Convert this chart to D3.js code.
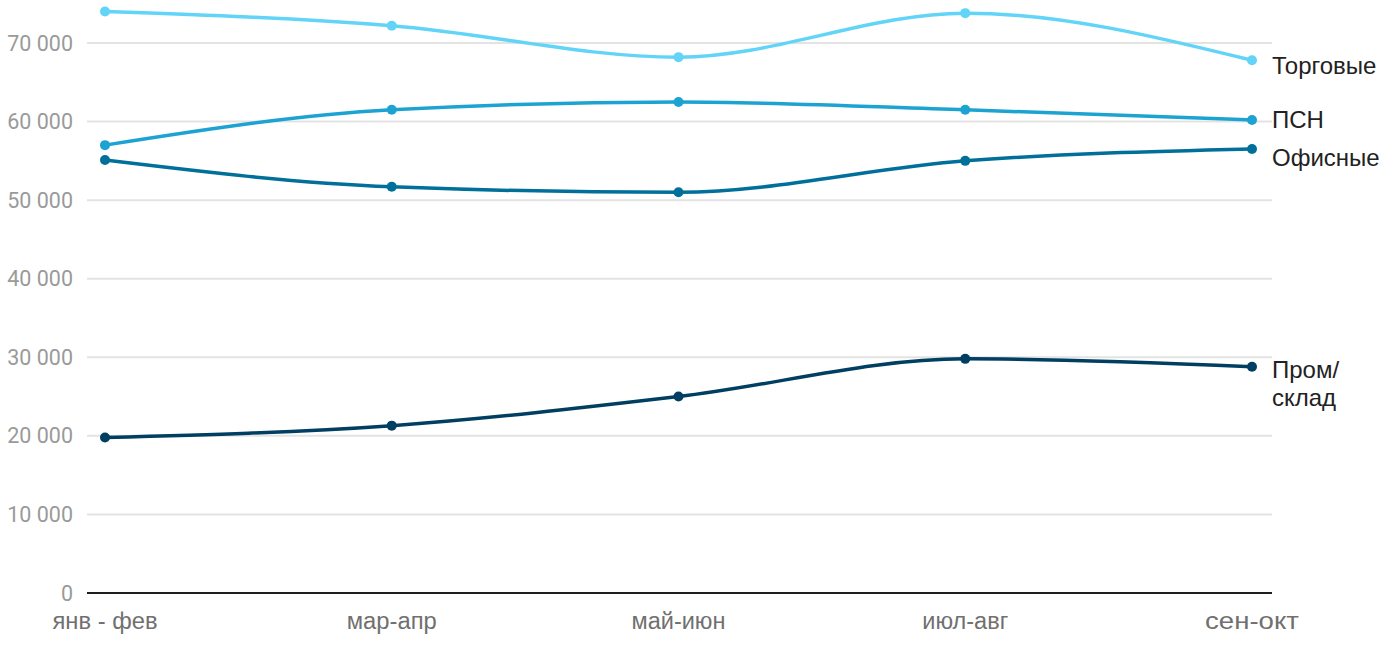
<!DOCTYPE html>
<html><head><meta charset="utf-8">
<script src="https://cdn.jsdelivr.net/npm/d3@7"></script>
<style>body{margin:0;background:#fff}</style>
</head><body>
<svg id="c" width="1400" height="650"></svg>
<script>
const categories = ["янв - фев","мар-апр","май-июн","июл-авг","сен-окт"];
const torgovye = [74000,72200,68200,73800,67800];
const psn = [57000,61500,62500,61500,60200];
const ofisnye = [55100,51700,51000,55000,56500];
const prom = [19800,21300,25000,29800,28800];
const yTicks = [0,10000,20000,30000,40000,50000,60000,70000];
const seriesNames = ["Торговые","ПСН","Офисные","Пром/склад"];
const seriesColors = ["#62d4f8","#1ca3d2","#00709a","#003e62"];
const labelLines = [["Торговые"],["ПСН"],["Офисные"],["Пром/","склад"]];
const labelOffsets = [5,0,9,3];

const series = [torgovye,psn,ofisnye,prom];
const svg = d3.select("#c");
const x = d3.scalePoint().domain(categories).range([105,1252]);
const y = d3.scaleLinear().domain([0,70000]).range([593,43]);

svg.append("g").selectAll("line").data(yTicks.filter(d=>d>0)).join("line")
  .attr("x1",87).attr("x2",1272).attr("y1",d=>y(d)).attr("y2",d=>y(d))
  .attr("stroke","#e3e3e3").attr("stroke-width",2);

svg.append("g").selectAll("text").data(yTicks).join("text")
  .attr("x",73).attr("y",d=>y(d)).attr("dy","0.35em").attr("text-anchor","end")
  .attr("font-family","Roboto").attr("font-size",21.5).attr("fill","#9a9a9a")
  .text(d=>d3.format(",")(d).replace(/,/g," "));

svg.append("line").attr("x1",87).attr("x2",1272).attr("y1",y(0)).attr("y2",y(0))
  .attr("stroke","#1e1e1e").attr("stroke-width",2);

svg.append("g").selectAll("text").data(categories).join("text")
  .attr("x",d=>x(d)).attr("y",621).attr("dy","0.35em").attr("text-anchor","middle")
  .attr("font-family","Liberation Sans").attr("font-size",23).attr("fill","#707070")
  .attr("textLength",(d,i)=>[105,90,94,86,94][i]).attr("lengthAdjust","spacingAndGlyphs")
  .text(d=>d);

const line = d3.line().x((d,i)=>x(categories[i])).y(d=>y(d)).curve(d3.curveMonotoneX);
series.forEach((s,k)=>{
  svg.append("path").datum(s).attr("d",line).attr("fill","none")
    .attr("stroke",seriesColors[k]).attr("stroke-width",3.5);
  svg.append("g").selectAll("circle").data(s).join("circle")
    .attr("cx",(d,i)=>x(categories[i])).attr("cy",d=>y(d)).attr("r",5)
    .attr("fill",seriesColors[k]);
  const last = s[s.length-1];
  const t = svg.append("text").attr("x",1272).attr("y",y(last)+labelOffsets[k])
    .attr("font-family","Liberation Sans").attr("font-size",24).attr("fill","#222");
  labelLines[k].forEach((ln,j)=>{
    t.append("tspan").attr("x",1272).attr("dy",j===0?"0.35em":"1.18em").text(ln);
  });
});
</script>
</body></html>
